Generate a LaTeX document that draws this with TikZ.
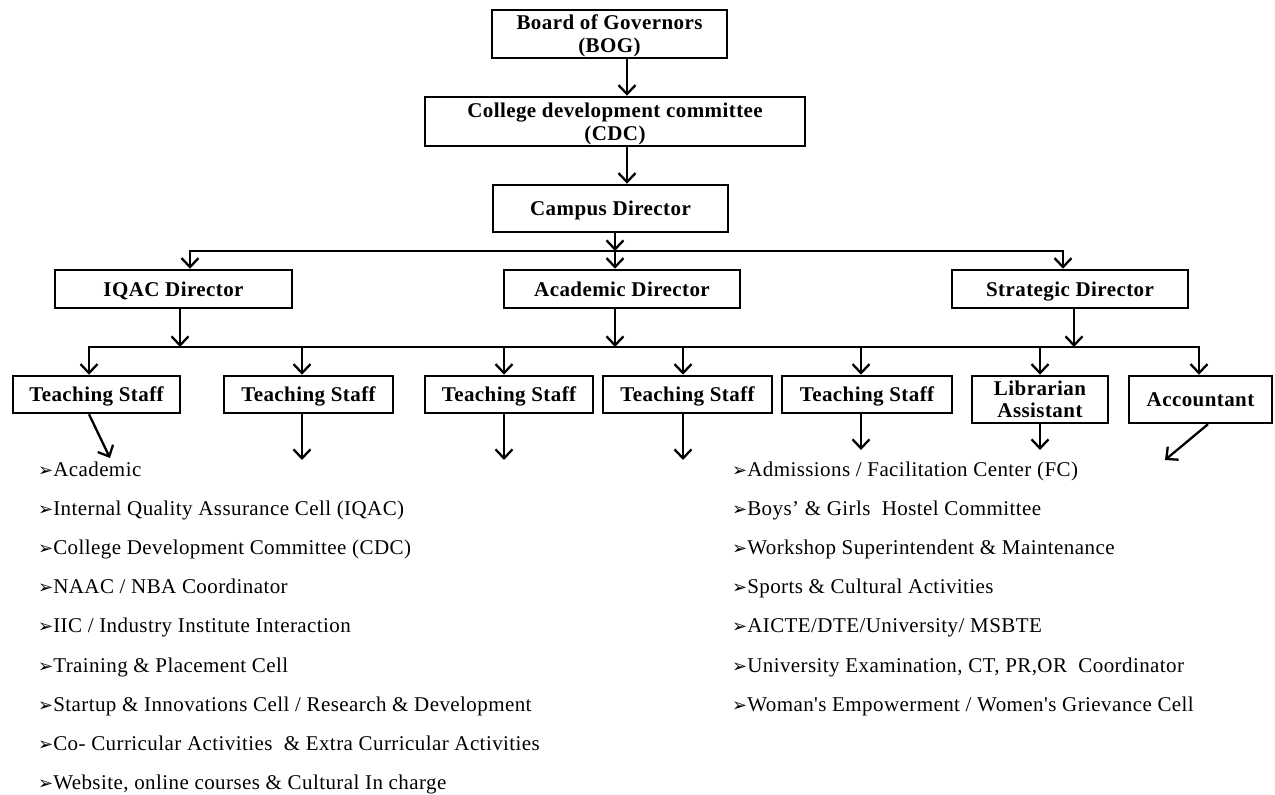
\documentclass[tikz,border=0pt]{standalone}
\usepackage{fontspec}
\setmainfont{Liberation Serif}
\newfontfamily\spacedfont{Liberation Serif}[LetterSpace=2]
\newfontfamily\bulletfont{DejaVu Sans}
\usetikzlibrary{arrows.meta}
\begin{document}
\begin{tikzpicture}[x=1pt,y=-1pt,
  box/.style={draw, line width=2.5pt, inner sep=0pt, align=center, text depth=0pt,
    font=\spacedfont\bfseries\fontsize{21}{23}\selectfont},
  conn/.style={line width=2.3pt},
  tip/.tip={Straight Barb[length=9pt,width=17pt]},
  arr/.style={conn, -tip},
  darr/.style={conn, tip-tip},
  item/.style={anchor=base west, inner sep=0pt, font=\spacedfont\fontsize{21}{23}\selectfont}
]
\useasboundingbox (0,0) rectangle (1275,795);

% top chain
\node[box, minimum width=235pt, minimum height=48pt] (bog) at (609.5,34) {Board of Governors\\(BOG)};
\node[box, minimum width=380pt, minimum height=49pt] (cdc) at (615,121.5) {College development committee\\(CDC)};
\node[box, minimum width=235pt, minimum height=47pt] (campus) at (610.5,208.5) {Campus Director};

\coordinate (a1) at (627,0);
\draw[arr] (bog.south -| a1) -- (cdc.north -| a1);
\draw[arr] (cdc.south -| a1) -- (campus.north -| a1);

% second row
\node[box, minimum width=237pt, minimum height=38pt] (iqac) at (173.5,289) {IQAC Director};
\node[box, minimum width=236pt, minimum height=38pt] (acad) at (622,289) {Academic Director};
\node[box, minimum width=236pt, minimum height=38pt] (strat) at (1070,289) {Strategic Director};

\coordinate (j1) at (615,251);
\coordinate (h1L) at (190,251);
\coordinate (h1R) at (1063,251);
\draw[arr] (campus.south -| j1) -- (j1);
\draw[darr] (iqac.north -| h1L) -- (h1L) -- (h1R) -- (strat.north -| h1R);
\draw[arr] (j1) -- (j1 |- acad.north);

% third row
\node[box, minimum width=167pt, minimum height=37pt] (ts1) at (96.5,394.5) {Teaching Staff};
\node[box, minimum width=169pt, minimum height=37pt] (ts2) at (308.5,394.5) {Teaching Staff};
\node[box, minimum width=168pt, minimum height=37pt] (ts3) at (509,394.5) {Teaching Staff};
\node[box, minimum width=169pt, minimum height=37pt] (ts4) at (687.5,394.5) {Teaching Staff};
\node[box, minimum width=170pt, minimum height=37pt] (ts5) at (867,394.5) {Teaching Staff};
\node[box, minimum width=136pt, minimum height=47pt] (lib) at (1040,399.5) {Librarian\\[-1pt]Assistant};
\node[box, minimum width=143pt, minimum height=47pt] (acc) at (1200.5,399.5) {Accountant};

\coordinate (d1) at (180,347);
\coordinate (d2) at (615,347);
\coordinate (d3) at (1074,347);
\draw[arr] (iqac.south -| d1) -- (d1);
\draw[arr] (acad.south -| d2) -- (d2);
\draw[arr] (strat.south -| d3) -- (d3);

\coordinate (h2L) at (89,347);
\coordinate (h2R) at (1199,347);
\draw[darr] (ts1.north -| h2L) -- (h2L) -- (h2R) -- (acc.north -| h2R);
\foreach \n/\x in {ts2/302, ts3/504, ts4/683, ts5/861, lib/1040}{
  \coordinate (c\n) at (\x,347);
  \draw[arr] (c\n) -- (c\n |- \n.north);
}

% outgoing arrows below third row
\coordinate (e1) at (110,458);
\coordinate (e2) at (302,460);
\coordinate (e3) at (504,460);
\coordinate (e4) at (683,460);
\coordinate (e5) at (861,450);
\coordinate (e6) at (1040,450);
\coordinate (e7) at (1165,460);
\coordinate (s7) at (1208,0);
\draw[arr] (ts1.south -| h2L) -- (e1);
\draw[arr] (ts2.south -| e2) -- (e2);
\draw[arr] (ts3.south -| e3) -- (e3);
\draw[arr] (ts4.south -| e4) -- (e4);
\draw[arr] (ts5.south -| e5) -- (e5);
\draw[arr] (lib.south -| e6) -- (e6);
\draw[arr] (acc.south -| s7) -- (e7);

% lists
\foreach \t [count=\i] in {Academic, Internal Quality Assurance Cell (IQAC), College Development Committee (CDC), NAAC / NBA Coordinator, IIC / Industry Institute Interaction, Training \& Placement Cell, Startup \& Innovations Cell / Research \& Development, Co- Curricular Activities \ \& Extra Curricular Activities, {Website, online courses \& Cultural In charge}}{
  \node[item] (L\i) at (38, 476+39.2*\i-39.2) {{\bulletfont\fontsize{18}{18}\selectfont ➢}\t};
}
\foreach \t [count=\i] in {Admissions / Facilitation Center (FC), Boys’ \& Girls \ Hostel Committee, Workshop Superintendent \& Maintenance, Sports \& Cultural Activities, AICTE/DTE/University/ MSBTE, {University Examination, CT, PR,OR \ Coordinator}, Woman's Empowerment / Women's Grievance Cell}{
  \node[item] (R\i) at (732, 476+39.2*\i-39.2) {{\bulletfont\fontsize{18}{18}\selectfont ➢}\t};
}
\end{tikzpicture}
\end{document}
